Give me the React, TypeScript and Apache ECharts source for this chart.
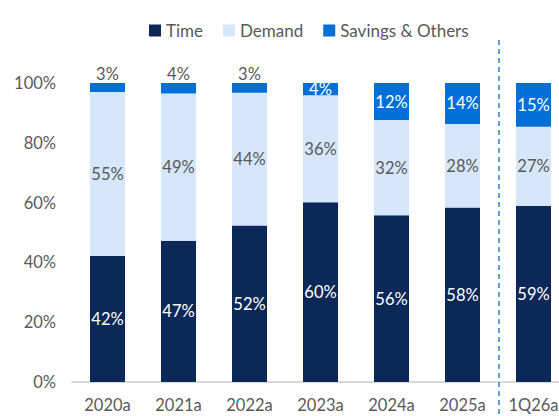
import React, { useEffect, useRef } from "react";
import * as echarts from "echarts";

const categories = ["2020a", "2021a", "2022a", "2023a", "2024a", "2025a", "1Q26a"];
const timeValues = [42.1, 47.2, 52.3, 60.1, 55.8, 58.4, 58.9];
const demandValues = [54.9, 49.3, 44.4, 35.8, 31.8, 27.9, 26.5];
const savingsValues = [3.0, 3.5, 3.3, 4.1, 12.4, 13.7, 14.6];
const savingsLabelAbove = [true, true, true, false, false, false, false];
const yTicks = [0, 20, 40, 60, 80, 100];

const FONT = "Lato, 'Open Sans', sans-serif";
const GREY = "#595959";

export default function App() {
  const ref = useRef<HTMLDivElement>(null);
  useEffect(() => {
    document.body.style.margin = "0";
    if (!ref.current) return;
    const chart = echarts.init(ref.current, undefined, { renderer: "svg" });
    const pct = (p: any) => Math.round(p.value) + "%";
    chart.setOption({
      animation: false,
      textStyle: { fontFamily: FONT },
      legend: {
        top: 17,
        left: 144,
        itemWidth: 12,
        itemHeight: 12,
        itemGap: 20,
        icon: "rect",
        textStyle: { fontFamily: FONT, fontSize: 17, color: GREY },
        data: ["Time", "Demand", "Savings & Others"],
      },
      grid: { left: 72, width: 497, top: 83, bottom: 34, containLabel: false, outerBoundsMode: "none" },
      xAxis: {
        type: "category",
        data: categories,
        axisLine: { lineStyle: { color: "#d9d9d9", width: 2 } },
        axisTick: { show: false },
        axisLabel: { fontFamily: FONT, fontSize: 16.5, color: GREY, margin: 14 },
      },
      yAxis: {
        type: "value",
        min: yTicks[0],
        max: yTicks[yTicks.length - 1],
        interval: 20,
        axisLine: { show: false },
        axisTick: { show: false },
        splitLine: { show: false },
        axisLabel: { fontFamily: FONT, fontSize: 16.5, color: GREY, margin: 16, formatter: "{value}%" },
      },
      series: [
        {
          name: "Time",
          type: "bar",
          stack: "a",
          barWidth: 35,
          data: timeValues,
          itemStyle: { color: "#0b2858" },
          label: { show: true, position: "inside", color: "#ffffff", fontSize: 16.5, fontFamily: FONT, formatter: pct },
        },
        {
          name: "Demand",
          type: "bar",
          stack: "a",
          barWidth: 35,
          data: demandValues,
          itemStyle: { color: "#d6e6fb" },
          label: { show: true, position: "inside", color: GREY, fontSize: 16.5, fontFamily: FONT, formatter: pct },
        },
        {
          name: "Savings & Others",
          type: "bar",
          stack: "a",
          barWidth: 35,
          data: savingsValues.map((v, i) =>
            savingsLabelAbove[i]
              ? { value: v, label: { position: "top", color: GREY, distance: 1 } }
              : { value: v }
          ),
          itemStyle: { color: "#0070d8" },
          label: { show: true, position: "inside", color: "#ffffff", fontSize: 16.5, fontFamily: FONT, formatter: pct },
        },
      ],
    });
    const xa = chart.convertToPixel({ xAxisIndex: 0 }, 5) as number;
    const xb = chart.convertToPixel({ xAxisIndex: 0 }, 6) as number;
    const xm = (xa + xb) / 2 + 1;
    chart.setOption({
      graphic: [
        {
          type: "line",
          shape: { x1: xm, y1: 40, x2: xm, y2: 416 },
          style: { stroke: "#2e7fd9", lineWidth: 1.5, lineDash: [5, 4] },
          z: 10,
        },
      ],
    });
    return () => chart.dispose();
  }, []);
  return <div ref={ref} style={{ width: 559, height: 416 }} />;
}
